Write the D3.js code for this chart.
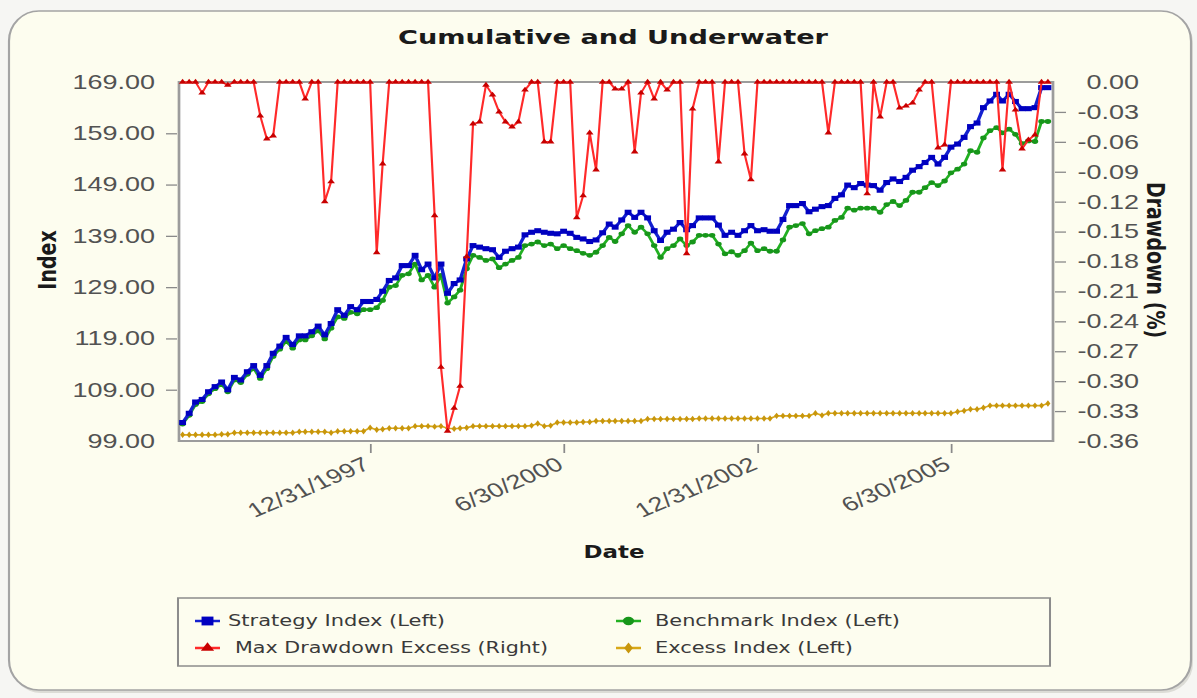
<!DOCTYPE html>
<html lang="en">
<head>
<meta charset="utf-8">
<title>Cumulative and Underwater</title>
<script src="https://cdn.jsdelivr.net/npm/d3@7"></script>
<style>
  body { margin: 0; background: #f6f6f3; }
  svg { display: block; }
  .tick text { font-family: "Liberation Sans", Arial, sans-serif; font-size: 20px; fill: #525252; }
  .tick line { stroke: #8a8a8a; stroke-width: 1.3; }
</style>
</head>
<body>
<script>

// month-end dates, 7/31/1995 .. 9/30/2006
var firstMonth = new Date(1995, 7, 1);
var lastMonth = new Date(2006, 10, 1);

// Strategy Index (Left)
var strategy = [
  102.6, 104.4, 106.6, 107.1, 108.6, 109.6, 110.5, 109.0, 111.4, 110.9,
  112.5, 113.7, 111.8, 113.7, 116.1, 117.5, 119.2, 117.8, 119.5, 119.5,
  120.3, 121.4, 119.7, 121.9, 124.6, 123.5, 125.2, 124.6, 126.2, 126.2,
  126.6, 128.2, 130.3, 130.8, 133.2, 133.2, 135.2, 132.4, 133.5, 130.8,
  133.5, 127.8, 129.7, 130.4, 134.5, 137.1, 136.8, 136.5, 136.3, 134.8,
  136.0, 136.5, 136.8, 139.2, 139.7, 140.0, 139.7, 139.5, 139.4, 139.9,
  139.5, 138.7, 138.4, 137.9, 138.2, 139.6, 141.3, 140.7, 142.1, 143.6,
  142.6, 143.6, 142.5, 140.0, 138.1, 139.7, 140.3, 141.6, 140.2, 141.0,
  142.5, 142.5, 142.5, 141.1, 139.1, 139.7, 139.1, 140.0, 141.0, 140.0,
  140.2, 139.9, 139.9, 142.2, 144.9, 144.9, 145.3, 143.7, 144.2, 144.7,
  144.9, 146.3, 147.0, 148.9, 148.4, 149.2, 148.9, 148.8, 147.9, 149.4,
  150.1, 149.6, 150.4, 151.8, 152.5, 153.3, 154.3, 153.0, 154.3, 156.3,
  156.9, 158.2, 160.3, 161.0, 164.0, 165.3, 166.6, 165.3, 166.6, 165.2,
  163.8, 163.8, 164.0, 167.9, 167.9
];

// Benchmark Index (Left)
var benchmark = [
  102.3, 104.0, 106.1, 106.7, 108.2, 109.2, 110.0, 108.6, 110.9, 110.4,
  112.0, 113.1, 111.2, 113.1, 115.5, 116.9, 118.4, 117.1, 118.7, 118.7,
  119.5, 120.5, 118.9, 121.0, 123.2, 122.9, 124.1, 123.8, 124.6, 124.6,
  125.0, 126.4, 129.0, 129.3, 131.3, 131.6, 133.5, 130.4, 131.3, 129.0,
  131.3, 125.9, 127.1, 128.4, 132.6, 135.2, 134.8, 134.2, 134.5, 132.8,
  133.5, 134.2, 134.8, 137.1, 137.4, 137.8, 137.1, 137.4, 136.5, 137.1,
  136.5, 136.1, 135.6, 135.2, 135.8, 137.1, 138.7, 137.9, 139.4, 141.0,
  139.7, 140.7, 139.4, 137.1, 134.8, 136.5, 137.1, 138.4, 137.1, 137.8,
  139.1, 139.1, 139.1, 137.4, 135.5, 135.9, 135.2, 136.1, 137.6, 136.1,
  136.5, 136.0, 136.0, 138.2, 140.7, 141.0, 141.4, 139.4, 140.0, 140.4,
  140.7, 142.0, 142.6, 144.4, 144.0, 144.4, 144.4, 144.4, 143.6, 145.1,
  145.7, 144.9, 145.9, 147.5, 147.5, 148.4, 149.4, 148.8, 149.7, 151.3,
  152.0, 153.0, 155.6, 155.3, 158.1, 159.5, 160.1, 159.1, 159.8, 158.8,
  157.0, 157.5, 157.4, 161.3, 161.3
];

// Excess Index (Left)
var excess = [
  100.2, 100.2, 100.2, 100.2, 100.2, 100.2, 100.3, 100.3, 100.6, 100.6,
  100.6, 100.6, 100.6, 100.6, 100.6, 100.6, 100.6, 100.6, 100.8, 100.8,
  100.8, 100.8, 100.8, 100.6, 100.9, 100.9, 100.9, 100.9, 100.9, 101.6,
  101.2, 101.3, 101.5, 101.5, 101.5, 101.5, 101.9, 101.9, 101.9, 101.8,
  101.9, 101.5, 101.4, 101.5, 101.6, 101.9, 101.9, 101.9, 101.9, 101.9,
  101.9, 101.9, 101.9, 101.9, 102.0, 102.4, 101.9, 102.0, 102.6, 102.6,
  102.6, 102.6, 102.7, 102.7, 102.9, 102.9, 102.9, 102.9, 102.9, 102.9,
  102.9, 102.9, 103.3, 103.3, 103.3, 103.3, 103.3, 103.3, 103.3, 103.3,
  103.4, 103.4, 103.4, 103.4, 103.4, 103.4, 103.4, 103.4, 103.4, 103.4,
  103.4, 103.4, 103.9, 103.9, 103.9, 103.9, 103.9, 103.9, 104.4, 104.0,
  104.4, 104.4, 104.4, 104.4, 104.4, 104.4, 104.4, 104.4, 104.4, 104.4,
  104.4, 104.4, 104.4, 104.4, 104.4, 104.4, 104.4, 104.4, 104.4, 104.4,
  104.7, 104.9, 105.2, 105.2, 105.5, 105.9, 105.9, 105.9, 105.9, 105.9,
  105.9, 105.9, 105.9, 105.9, 106.3
];

// Max Drawdown Excess (Right)
var drawdown = [
  0, 0, 0, -0.011, 0, 0, 0, -0.003, 0, 0,
  0, 0, -0.034, -0.057, -0.054, 0, 0, 0, 0, -0.017,
  0, 0, -0.120, -0.100, 0, 0, 0, 0, 0, 0,
  -0.171, -0.082, 0, 0, 0, 0, 0, 0, 0, -0.134,
  -0.286, -0.350, -0.327, -0.305, -0.175, -0.042, -0.040, -0.003, -0.013, -0.030,
  -0.040, -0.045, -0.040, -0.008, 0, 0, -0.060, -0.060, 0, 0,
  0, -0.136, -0.114, -0.051, -0.088, 0, 0, -0.007, -0.007, 0,
  -0.070, -0.011, 0, -0.017, 0, -0.008, 0, 0, -0.172, -0.027,
  0, 0, 0, -0.080, 0, 0, 0, -0.072, -0.098, 0,
  0, 0, 0, 0, 0, 0, 0, 0, 0, 0,
  -0.051, 0, 0, 0, 0, 0, -0.112, 0, -0.035, 0,
  0, -0.026, -0.024, -0.021, -0.008, 0, 0, -0.066, -0.063, 0,
  0, 0, 0, 0, 0, 0, 0, -0.088, 0, -0.028,
  -0.067, -0.058, -0.053, 0, 0
];

var leftTicks = [99, 109, 119, 129, 139, 149, 159, 169];
var rightTicks = [0, -0.03, -0.06, -0.09, -0.12, -0.15, -0.18, -0.21, -0.24, -0.27, -0.30, -0.33, -0.36];
var dateTicks = ["1997-12-31", "2000-06-30", "2002-12-31", "2005-06-30"];
var legendLabels = ["Strategy Index (Left)", "Benchmark Index (Left)", "Max Drawdown Excess (Right)", "Excess Index (Left)"];

var parseDay = d3.timeParse("%Y-%m-%d");
var formatDay = d3.timeFormat("%-m/%-d/%Y");
var dates = d3.timeMonth.range(firstMonth, lastMonth).map(function(d) { return d3.timeDay.offset(d, -1); });

// the picture is stretched sideways, so draw in narrower units and let the viewBox widen it
var SX = 1.35;
var W = 1197 / SX, H = 698;
var X = function(v) { return v / SX; };   // reference pixel -> drawing unit

var svg = d3.select("body").append("svg")
  .attr("width", 1197)
  .attr("height", H)
  .attr("viewBox", "0 0 " + W + " " + H)
  .attr("preserveAspectRatio", "none");

// rounded panel
svg.append("rect")
  .attr("x", X(11)).attr("y", 13).attr("width", X(1182)).attr("height", 680)
  .attr("rx", X(30)).attr("ry", 30)
  .attr("fill", "#dcdcd6");
svg.append("rect")
  .attr("x", X(9)).attr("y", 11).attr("width", X(1182)).attr("height", 679)
  .attr("rx", X(30)).attr("ry", 30)
  .attr("fill", "#fdfdef").attr("stroke", "#a4a4a4").attr("stroke-width", 1.6);

var plot = { left: X(179), right: X(1053), top: 82, bottom: 441 };

var xScale = d3.scaleTime()
  .domain([new Date(1995, 6, 14), new Date(2006, 9, 24)])
  .range([plot.left, plot.right]);
var yLeft = d3.scaleLinear().domain([99, 169]).range([plot.bottom, plot.top]);
var yRight = d3.scaleLinear().domain([-0.36, 0]).range([plot.bottom, plot.top]);

// plot area
svg.append("rect")
  .attr("x", plot.left).attr("y", plot.top)
  .attr("width", plot.right - plot.left).attr("height", plot.bottom - plot.top)
  .attr("fill", "#ffffff").attr("stroke", "#9c9c9c").attr("stroke-width", 2);

// title
svg.append("text")
  .attr("x", X(613)).attr("y", 44)
  .attr("text-anchor", "middle")
  .attr("font-family", "DejaVu Sans, Verdana, sans-serif")
  .attr("font-weight", "bold").attr("font-size", 20)
  .attr("textLength", X(430)).attr("lengthAdjust", "spacingAndGlyphs")
  .attr("fill", "#1a1a1a")
  .text("Cumulative and Underwater");

// left axis
var gLeft = svg.append("g")
  .attr("transform", "translate(" + plot.left + ",0)")
  .call(d3.axisLeft(yLeft).tickValues(leftTicks).tickSize(X(12)).tickPadding(X(22))
    .tickFormat(function(d) { return d.toFixed(2); }));
gLeft.select(".domain").remove();
gLeft.selectAll(".tick line").attr("x1", X(-2)).attr("x2", X(-13));
gLeft.selectAll(".tick").filter(function(d) { return d === 99 || d === 169; }).select("line").remove();
gLeft.selectAll(".tick text").attr("x", X(155 - 179));

// right axis
var gRight = svg.append("g")
  .attr("transform", "translate(" + plot.right + ",0)")
  .call(d3.axisRight(yRight).tickValues(rightTicks).tickSize(X(12))
    .tickFormat(function(d) { return d.toFixed(2); }));
gRight.select(".domain").remove();
gRight.selectAll(".tick line").attr("x1", X(2)).attr("x2", X(13));
gRight.selectAll(".tick").filter(function(d) { return d === 0 || d === -0.36; }).select("line").remove();
gRight.selectAll(".tick text").attr("x", X(1139 - 1053)).attr("text-anchor", "end");

// bottom axis
var gBottom = svg.append("g")
  .attr("transform", "translate(0," + (plot.bottom + 1) + ")")
  .call(d3.axisBottom(xScale).tickValues(dateTicks.map(parseDay)).tickSize(11).tickFormat(formatDay));
gBottom.select(".domain").remove();
gBottom.selectAll(".tick line").attr("y1", 2);
gBottom.selectAll(".tick text")
  .attr("x", 0).attr("y", 0).attr("dy", "0.35em")
  .attr("text-anchor", "end")
  .attr("transform", "translate(" + X(-4) + ",20) rotate(-30)");

// axis titles
svg.append("text")
  .attr("transform", "translate(" + X(56) + ",260) rotate(-90)")
  .attr("text-anchor", "middle")
  .attr("font-family", "DejaVu Sans, Verdana, sans-serif")
  .attr("font-weight", "bold").attr("font-size", 19).attr("fill", "#1a1a1a")
  .text("Index");
svg.append("text")
  .attr("transform", "translate(" + X(1147) + ",260) rotate(90)")
  .attr("text-anchor", "middle")
  .attr("font-family", "DejaVu Sans, Verdana, sans-serif")
  .attr("font-weight", "bold").attr("font-size", 19).attr("fill", "#1a1a1a")
  .text("Drawdown (%)");
svg.append("text")
  .attr("x", X(614)).attr("y", 558)
  .attr("text-anchor", "middle")
  .attr("font-family", "DejaVu Sans, Verdana, sans-serif")
  .attr("font-weight", "bold").attr("font-size", 17).attr("fill", "#1a1a1a")
  .text("Date");

// series
var series = [
  { values: excess, scale: yLeft, line: "#d8a818", mark: "#c8960c", symbol: d3.symbolDiamond, size: 12, width: 1.6 },
  { values: benchmark, scale: yLeft, line: "#22b022", mark: "#17961a", symbol: d3.symbolCircle, size: 18, width: 2.2 },
  { values: strategy, scale: yLeft, line: "#1420d0", mark: "#0000c0", symbol: d3.symbolSquare, size: 26, width: 2.6 },
  { values: drawdown, scale: yRight, line: "#ff2a2a", mark: "#c80000", symbol: d3.symbolTriangle, size: 14, width: 1.6 }
];

series.forEach(function(s) {
  var line = d3.line()
    .x(function(d, i) { return xScale(dates[i]); })
    .y(function(d) { return s.scale(d); });

  svg.append("path")
    .datum(s.values)
    .attr("d", line)
    .attr("fill", "none")
    .attr("stroke", s.line)
    .attr("stroke-width", s.width)
    .attr("stroke-linejoin", "round");

  svg.append("g").selectAll("path")
    .data(s.values)
    .enter()
    .append("path")
    .attr("transform", function(d, i) { return "translate(" + xScale(dates[i]) + "," + s.scale(d) + ")"; })
    .attr("d", d3.symbol().type(s.symbol).size(s.size))
    .attr("fill", s.mark);
});

// legend
svg.append("rect")
  .attr("x", X(178)).attr("y", 598).attr("width", X(872)).attr("height", 68)
  .attr("fill", "#fdfdef").attr("stroke", "#8c8c8c").attr("stroke-width", 1.5);

var legendItems = [
  { label: legendLabels[0], s: series[2], mx: 195, tx: 228, y: 621, len: 217 },
  { label: legendLabels[1], s: series[1], mx: 616, tx: 655, y: 621, len: 245 },
  { label: legendLabels[2], s: series[3], mx: 195, tx: 235, y: 648, len: 313 },
  { label: legendLabels[3], s: series[0], mx: 616, tx: 655, y: 648, len: 198 }
];

legendItems.forEach(function(it) {
  svg.append("line")
    .attr("x1", X(it.mx)).attr("x2", X(it.mx + 25))
    .attr("y1", it.y).attr("y2", it.y)
    .attr("stroke", it.s.line).attr("stroke-width", 2.5);
  svg.append("path")
    .attr("transform", "translate(" + X(it.mx + 12.5) + "," + it.y + ")")
    .attr("d", d3.symbol().type(it.s.symbol).size(it.s.size * 3))
    .attr("fill", it.s.mark);
  svg.append("text")
    .attr("x", X(it.tx)).attr("y", it.y + 5.5)
    .attr("font-family", "DejaVu Sans, Verdana, sans-serif")
    .attr("font-size", 15).attr("fill", "#3a3a3a")
    .attr("textLength", X(it.len)).attr("lengthAdjust", "spacingAndGlyphs")
    .text(it.label);
});

</script>
</body>
</html>
